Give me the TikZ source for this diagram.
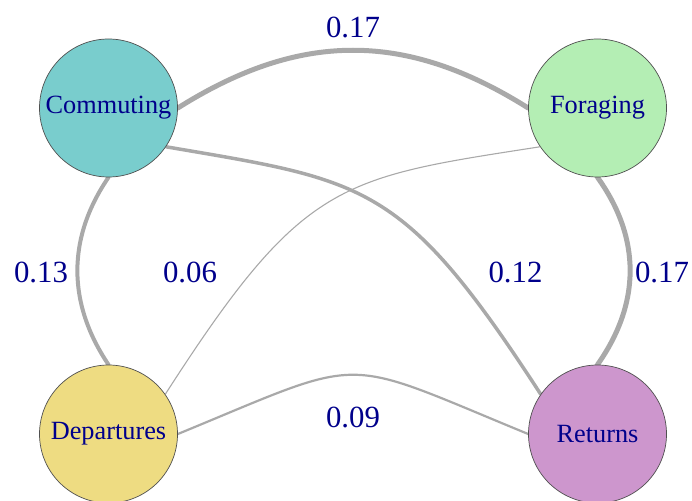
\documentclass[tikz,border=0pt]{standalone}
\usepackage{fontspec}
\setmainfont{Liberation Serif}
\usetikzlibrary{backgrounds}
\definecolor{cCom}{RGB}{121,205,205}
\definecolor{cFor}{RGB}{180,238,180}
\definecolor{cDep}{RGB}{238,220,130}
\definecolor{cRet}{RGB}{205,150,205}
\definecolor{txtblue}{RGB}{0,0,139}
\definecolor{edgegray}{RGB}{169,169,169}
\definecolor{rimgray}{RGB}{80,80,80}
\tikzset{
  statenode/.style={circle, minimum size=138pt, inner sep=0pt, draw=rimgray, line width=0.7pt,
    text=txtblue, font=\fontsize{26.3}{30}\selectfont},
  wlabel/.style={text=txtblue, font=\fontsize{30.8}{34}\selectfont, inner sep=0pt},
  link/.style={draw=edgegray, line cap=round}
}
\begin{document}
\begin{tikzpicture}[x=1pt,y=-1pt]
\useasboundingbox (0,0) rectangle (692,500);
% nodes
\node[statenode, fill=cCom] (c) at (108.5,108) {Commuting};
\node[statenode, fill=cFor] (f) at (597.5,108) {Foraging};
\node[statenode, fill=cDep] (d) at (108.5,434) {Departures};
\node[statenode, fill=cRet] (r) at (597.5,434) {Returns};
% edges
\begin{pgfonlayer}{background}
\draw[link, line width=5pt] (c.east) .. controls (300,31) and (406,31) .. (f.west);
\draw[link, line width=3.5pt] (c.-34) .. controls (367,181) and (403,182) .. (r.145);
\draw[link, line width=1.1pt] (f.-146) .. controls (339,178) and (303,180) .. (d.35);
\draw[link, line width=4pt] (c.south) .. controls (67,238) and (67,303) .. (d.north);
\draw[link, line width=5pt] (f.south) .. controls (641,238) and (641,303) .. (r.north);
\draw[link, line width=2.2pt] (d.east) .. controls (370,355) and (336,355) .. (r.west);
\end{pgfonlayer}
% labels
\node[wlabel] (l1) at (353,27) {0.17};
\node[wlabel] (l2) at (41,272) {0.13};
\node[wlabel] (l3) at (190,272) {0.06};
\node[wlabel] (l4) at (515.5,272) {0.12};
\node[wlabel] (l5) at (662,272) {0.17};
\node[wlabel] (l6) at (353,417.5) {0.09};
\end{tikzpicture}
\end{document}
